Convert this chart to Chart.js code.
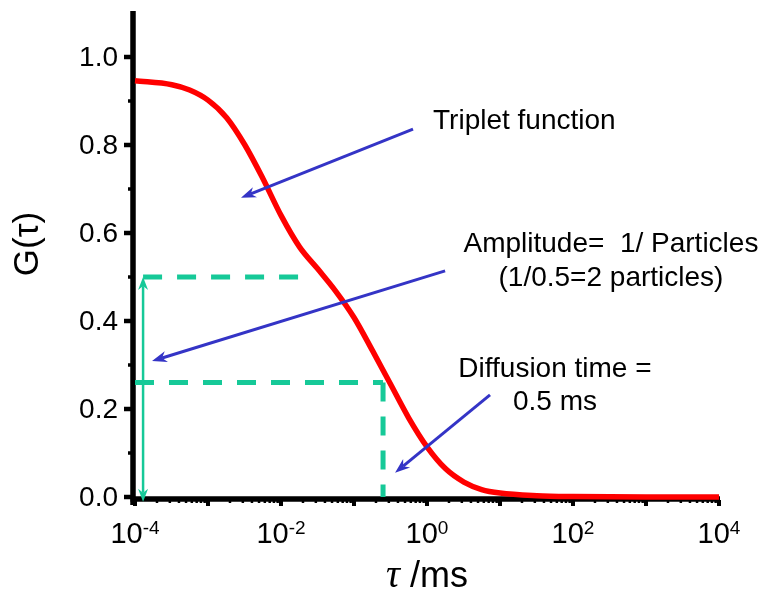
<!DOCTYPE html>
<html>
<head>
<meta charset="utf-8">
<script src="https://cdn.jsdelivr.net/npm/chart.js@4.4.1/dist/chart.umd.min.js"></script>
<style>
  body { margin:0; background:#fff; }
  canvas { display:block; }
</style>
</head>
<body>
<canvas id="c" width="763" height="595"></canvas>
<script>

// correlation curve
const tau = [1e-4, 3.2e-4, 5.6e-4, 1e-3, 1.8e-3, 3.2e-3, 5.6e-3, 0.01, 0.018, 0.032, 0.056,
             0.1, 0.18, 0.32, 0.56, 1, 1.8, 3.2, 5.6, 10, 32, 100, 1000, 10000];
const G   = [0.946, 0.937, 0.925, 0.902, 0.862, 0.800, 0.725, 0.640, 0.568, 0.518, 0.468,
             0.408, 0.332, 0.255, 0.180, 0.114, 0.064, 0.034, 0.017, 0.009, 0.003, 0.001, 0.0, 0.0];

// green guide lines
const ampTau   = [1.29e-4, 0.02];     // dashed line at amplitude
const ampG     = [0.5, 0.5];
const halfTau  = [1e-4, 0.25];        // dashed line at half amplitude
const halfG    = [0.26, 0.26];
const dropTau  = [0.25, 0.25];        // dashed drop to the axis
const dropG    = [0.26, 0];
const ampArrowTau = 1.29e-4;
const ampArrowG   = [0.5, -0.011];

// ticks
const yTicks      = [0, 0.2, 0.4, 0.6, 0.8, 1.0];
const yTickLabels = ['0.0', '0.2', '0.4', '0.6', '0.8', '1.0'];
const yMinor      = [0.1, 0.3, 0.5, 0.7, 0.9];
const xTicks      = [1e-4, 1e-2, 1, 1e2, 1e4];
const xTickExp    = ['-4', '-2', '0', '2', '4'];

// annotations (tau, G)
const notes = [
  { text:'Triplet function',         tau:1.21, g:0.855, align:'left' },
  { text:'Amplitude=  1/ Particles', tau:331,  g:0.575, align:'center' },
  { text:'(1/0.5=2 particles)',      tau:331,  g:0.496, align:'center' },
  { text:'Diffusion time =',         tau:56.6, g:0.291, align:'center' },
  { text:'0.5 ms',                   tau:56.6, g:0.216, align:'center' },
];
const blueArrows = [
  { from:[0.643, 0.836], to:[0.00283, 0.680] },
  { from:[1.77, 0.514],  to:[1.71e-4, 0.309] },
  { from:[7.3, 0.232],   to:[0.365, 0.055] },
];

const SANS  = '"Liberation Sans", Arial, sans-serif';
const GREEN = '#16c998';
const BLUE  = '#3434c6';

function pts(xs, ys){ return xs.map((x,i)=>({x:x, y:ys[i]})) }

function arrowHead(ctx, x1, y1, x2, y2, hl, hw){
      const a = Math.atan2(y2-y1, x2-x1), c = Math.cos(a), s = Math.sin(a)
      ctx.beginPath()
      ctx.moveTo(x2, y2)
      ctx.lineTo(x2 - hl*c + hw/2*s, y2 - hl*s - hw/2*c)
      ctx.lineTo(x2 - hl*0.7*c, y2 - hl*0.7*s)
      ctx.lineTo(x2 - hl*c - hw/2*s, y2 - hl*s + hw/2*c)
      ctx.closePath()
      ctx.fill()
}

function arrow(ctx, x1, y1, x2, y2, color, lw, hl, hw, both){
      const a = Math.atan2(y2-y1, x2-x1), c = Math.cos(a), s = Math.sin(a)
      ctx.strokeStyle = color; ctx.fillStyle = color; ctx.lineWidth = lw
      ctx.beginPath()
      ctx.moveTo(both ? x1 + hl*0.7*c : x1, both ? y1 + hl*0.7*s : y1)
      ctx.lineTo(x2 - hl*0.7*c, y2 - hl*0.7*s)
      ctx.stroke()
      arrowHead(ctx, x1, y1, x2, y2, hl, hw)
      if(both) arrowHead(ctx, x2, y2, x1, y1, hl, hw)
}

const axesPlugin = {
  id:'axes',
  beforeDatasetsDraw(chart){
      const ctx = chart.ctx, xs = chart.scales.x, ys = chart.scales.y, ca = chart.chartArea
      ctx.save()
      ctx.strokeStyle = '#000'; ctx.lineCap = 'butt'

      // y axis
      ctx.lineWidth = 5.5
      ctx.beginPath(); ctx.moveTo(ca.left-2, ys.getPixelForValue(1.1)-2); ctx.lineTo(ca.left-2, ca.bottom+8); ctx.stroke()
      // x axis
      ctx.beginPath(); ctx.moveTo(ca.left-4.5, ca.bottom+2); ctx.lineTo(ca.right+1, ca.bottom+2); ctx.stroke()

      // y ticks
      ctx.lineWidth = 4.5
      yTicks.forEach(v=>{ const y = ys.getPixelForValue(v)
            ctx.beginPath(); ctx.moveTo(ca.left-11, y); ctx.lineTo(ca.left-3, y); ctx.stroke() })
      ctx.lineWidth = 3.5
      yMinor.forEach(v=>{ const y = ys.getPixelForValue(v)
            ctx.beginPath(); ctx.moveTo(ca.left-7, y); ctx.lineTo(ca.left-3, y); ctx.stroke() })

      // x ticks: every decade plus 2..9
      for(let e=-4; e<=4; e++){
            const x = xs.getPixelForValue(Math.pow(10, e))
            ctx.lineWidth = 4
            ctx.beginPath(); ctx.moveTo(x, ca.bottom+3); ctx.lineTo(x, ca.bottom+9); ctx.stroke()
            if(e<4) for(let m=2; m<10; m++){
                  const xm = xs.getPixelForValue(m*Math.pow(10, e))
                  ctx.lineWidth = 2.5
                  ctx.beginPath(); ctx.moveTo(xm, ca.bottom+3); ctx.lineTo(xm, ca.bottom+6); ctx.stroke()
            }
      }

      // tick labels
      ctx.fillStyle = '#000'
      ctx.font = '28px ' + SANS
      ctx.textAlign = 'right'; ctx.textBaseline = 'middle'
      yTicks.forEach((v,i)=> ctx.fillText(yTickLabels[i], ca.left-17, ys.getPixelForValue(v)+1))

      ctx.textBaseline = 'alphabetic'
      xTicks.forEach((v,i)=>{
            const x = xs.getPixelForValue(v)
            ctx.font = '29px ' + SANS
            const w1 = ctx.measureText('10').width
            ctx.font = '19px ' + SANS
            const w2 = ctx.measureText(xTickExp[i]).width
            const x0 = x - (w1+w2)/2
            ctx.textAlign = 'left'
            ctx.font = '29px ' + SANS
            ctx.fillText('10', x0, ca.bottom+46)
            ctx.font = '19px ' + SANS
            ctx.fillText(xTickExp[i], x0+w1, ca.bottom+37)
      })

      // axis titles
      ctx.save()
      ctx.translate(28, 244); ctx.rotate(-Math.PI/2)
      ctx.font = '35px ' + SANS; ctx.textAlign = 'center'; ctx.textBaseline = 'middle'
      ctx.fillText('G(τ)', 0, 0)
      ctx.restore()

      const serif = 'italic 39px "Liberation Serif", "Times New Roman", serif'
      ctx.font = serif
      const wt = ctx.measureText('τ').width
      ctx.font = '36px ' + SANS
      const wm = ctx.measureText(' /ms').width
      const tx = 427 - (wt+wm)/2
      ctx.textAlign = 'left'
      ctx.font = serif
      ctx.fillText('τ', tx, 587)
      ctx.font = '36px ' + SANS
      ctx.fillText(' /ms', tx+wt, 587)

      ctx.restore()
  }
}

const notesPlugin = {
  id:'notes',
  afterDatasetsDraw(chart){
      const ctx = chart.ctx, xs = chart.scales.x, ys = chart.scales.y
      ctx.save()

      // double arrow for the amplitude
      const ax = xs.getPixelForValue(ampArrowTau)
      arrow(ctx, ax, ys.getPixelForValue(ampArrowG[0]), ax, ys.getPixelForValue(ampArrowG[1]), GREEN, 2.5, 13, 10, true)

      blueArrows.forEach(a=>{
            arrow(ctx, xs.getPixelForValue(a.from[0]), ys.getPixelForValue(a.from[1]),
                       xs.getPixelForValue(a.to[0]),   ys.getPixelForValue(a.to[1]), BLUE, 3, 15, 11, false)
      })

      ctx.fillStyle = '#000'
      ctx.font = '28px ' + SANS
      ctx.textBaseline = 'middle'
      notes.forEach(n=>{
            ctx.textAlign = n.align
            ctx.fillText(n.text, xs.getPixelForValue(n.tau), ys.getPixelForValue(n.g))
      })
      ctx.restore()
  }
}

const guide = (xs, ys) => ({
      data: pts(xs, ys), borderColor: GREEN, borderWidth: 5, borderDash: [19, 15],
      borderCapStyle: 'butt', pointRadius: 0, fill: false, clip: false, order: 2
})

new Chart(document.getElementById('c'), {
      type: 'line',
      data: {
            datasets: [
                  guide(ampTau, ampG),
                  guide(halfTau, halfG),
                  guide(dropTau, dropG),
                  {
                        data: pts(tau, G),
                        borderColor: '#ff0000', borderWidth: 5.5,
                        cubicInterpolationMode: 'monotone',
                        pointRadius: 0, fill: false, clip: false, order: 1
                  },
            ]
      },
      options: {
            responsive: false,
            animation: false,
            layout: { padding: { left: 135, right: 44, top: 13, bottom: 98 } },
            plugins: { legend: { display: false }, tooltip: { enabled: false } },
            scales: {
                  x: { type: 'logarithmic', min: 1e-4, max: 1e4, display: false },
                  y: { type: 'linear', min: 0, max: 1.1, display: false },
            },
      },
      plugins: [axesPlugin, notesPlugin]
})
</script>
</body>
</html>
